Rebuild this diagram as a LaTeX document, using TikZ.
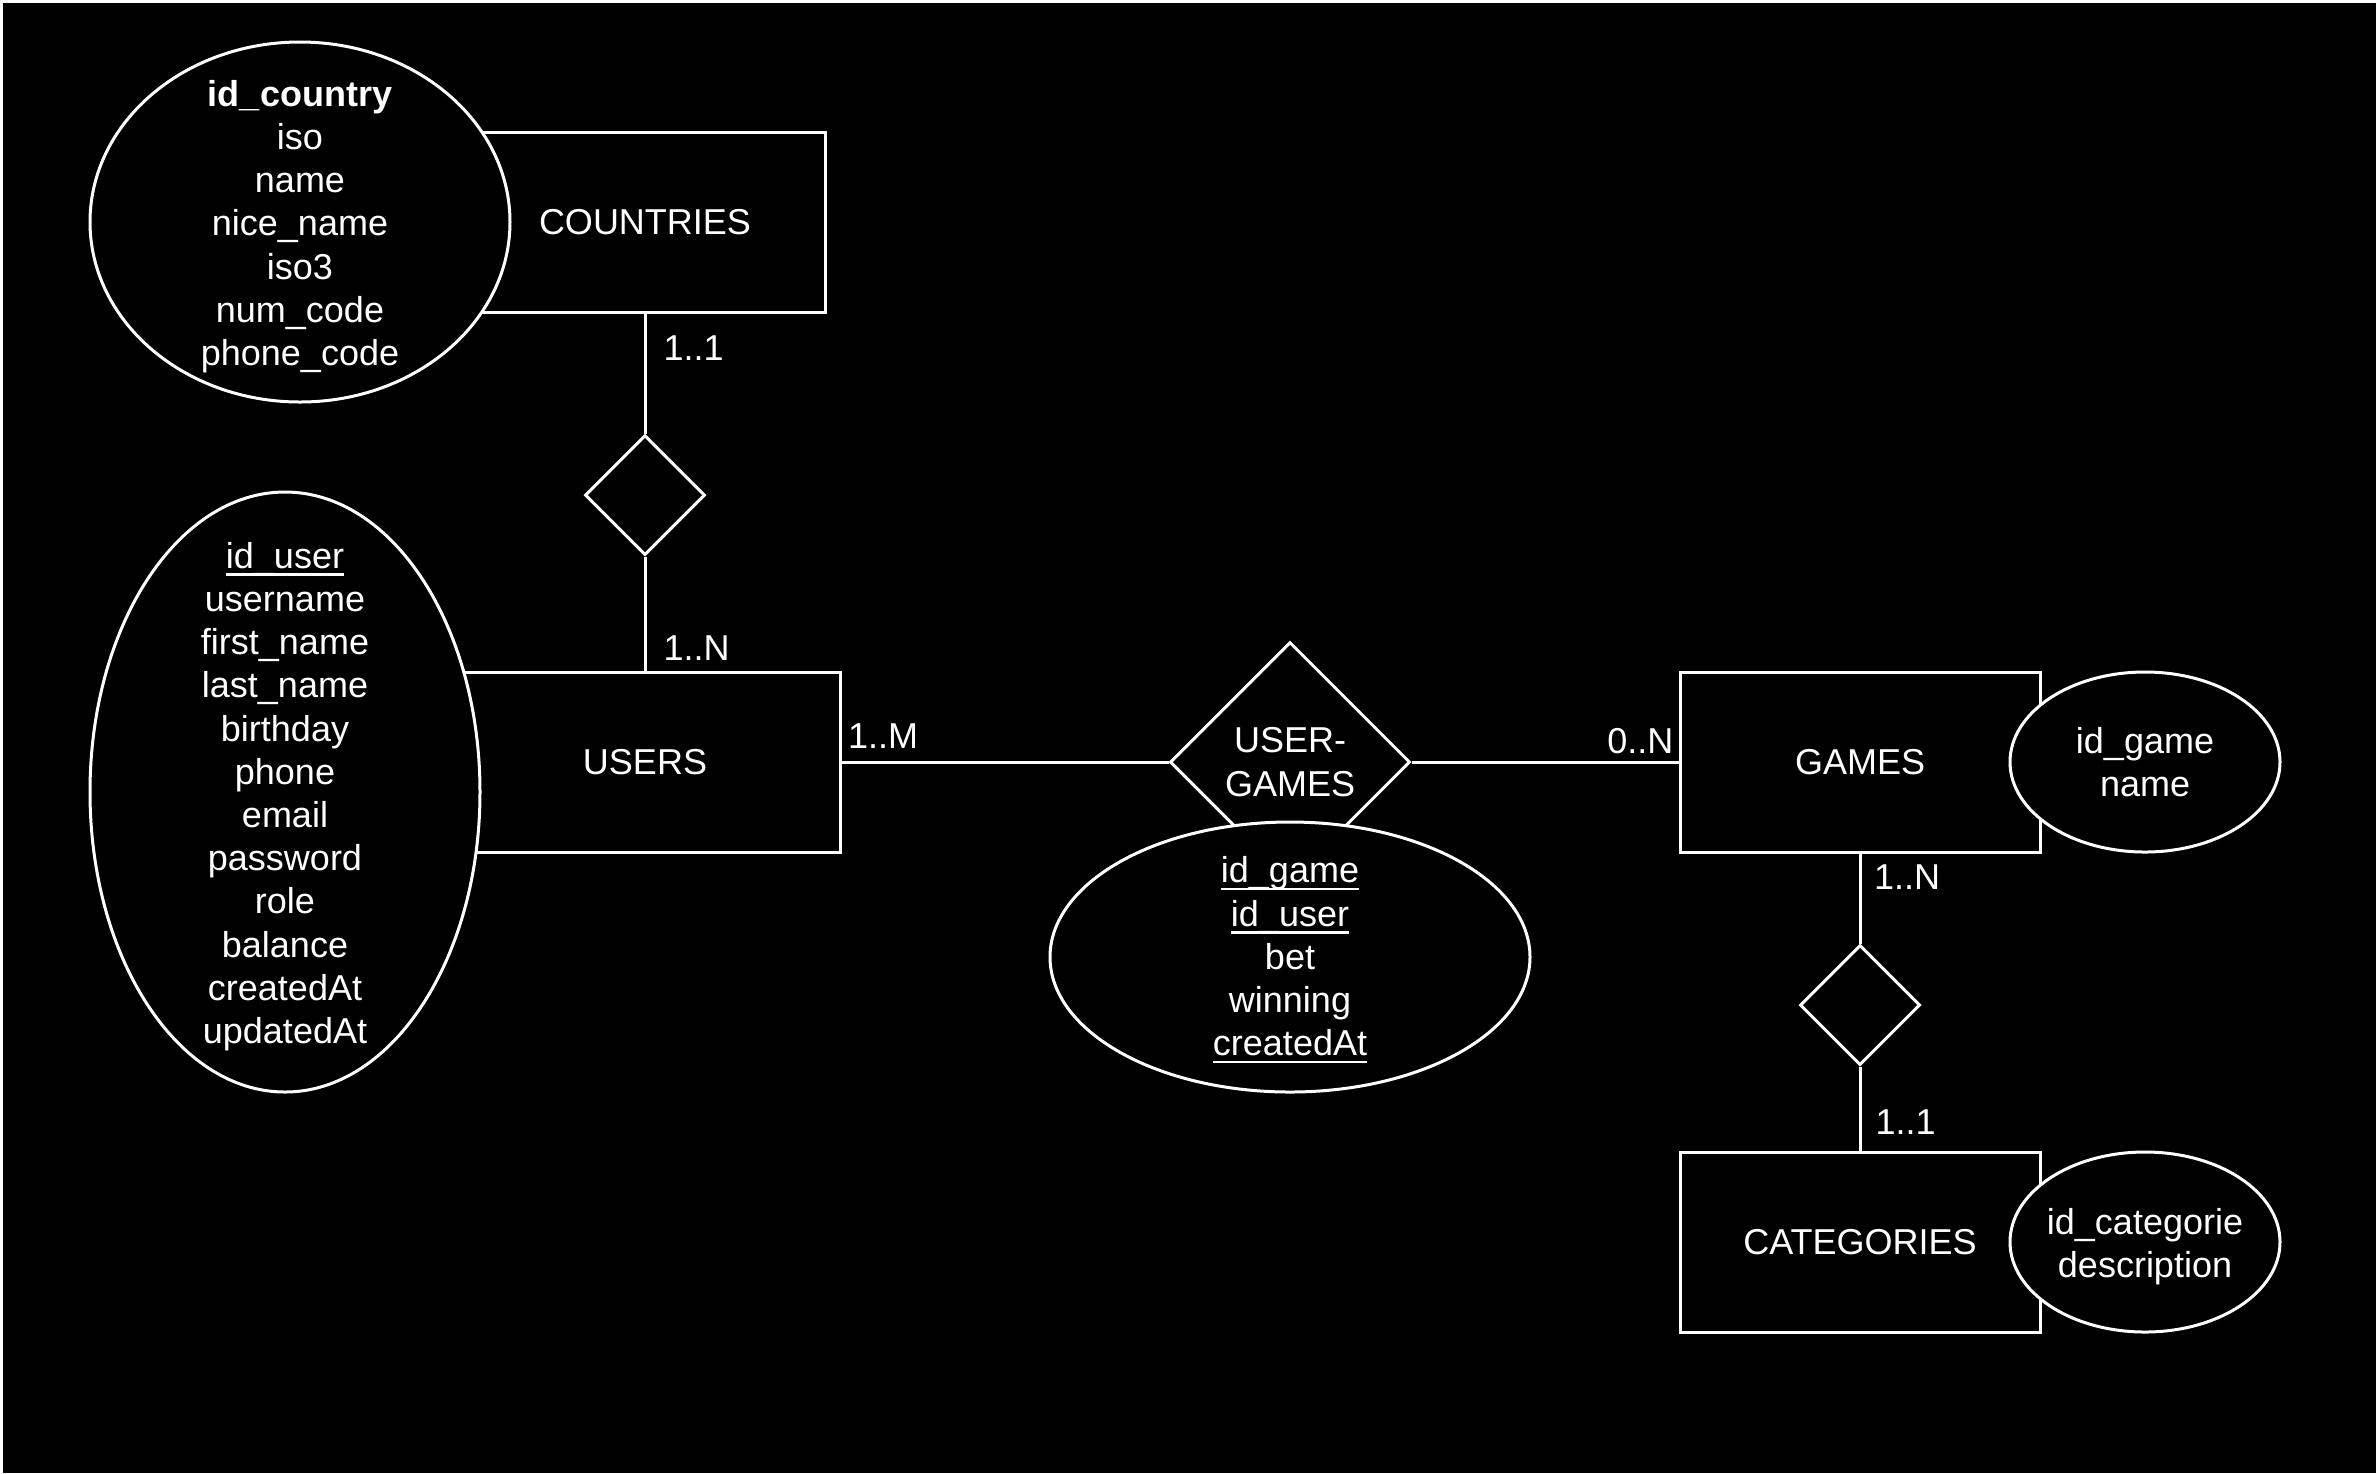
\documentclass[tikz,border=0pt]{standalone}
\usepackage{fontspec}
\setmainfont{Liberation Sans}
\usetikzlibrary{shapes.geometric}

% key attribute: line at the height of the underscore
\newcommand\keyattr[1]{\setbox0\hbox{#1}\rlap{\rule[-2.5pt]{\wd0}{0.8pt}}\box0}

\tikzset{
  erfont/.style={font=\fontsize{12}{14.4}\selectfont},
  entity/.style={draw=white,line width=1pt,fill=black,text=white,erfont,
    minimum width=120pt,minimum height=60pt,inner sep=0pt},
  attrib/.style={draw=white,line width=1pt,fill=black,ellipse,inner sep=0pt},
  attrtext/.style={text=white,erfont,align=center,inner sep=0pt,yshift=-1.5pt},
  relation/.style={draw=white,line width=1pt,fill=black,diamond,inner sep=0pt,
    minimum width=40pt,minimum height=40pt,text=white,erfont,align=center},
  card/.style={text=white,erfont,inner sep=0pt},
  link/.style={draw=white,line width=1pt}
}

\begin{document}
\begin{tikzpicture}[x=1pt,y=-1pt]
\path[use as bounding box,fill=black] (0,0) rectangle (792,491);
\fill[white] (0,0) rectangle (792,0.9);
\fill[white] (0,0) rectangle (0.9,491);
% entities
\node[entity] (countries) at (215,74) {COUNTRIES};
\node[entity,minimum width=130pt] (users) at (215,254) {USERS};
\node[entity] (games) at (620,254) {GAMES};
\node[entity] (categories) at (620,414) {CATEGORIES};
% relations
\node[relation] (livesin) at (215,165) {};
\node[relation,minimum width=80pt,minimum height=80pt] (usergames) at (430,254) {USER-\\GAMES};
\node[relation] (belongsto) at (620,335) {};
% links
\draw[link] (countries) -- (livesin);
\draw[link] (livesin) -- (users);
\draw[link] (users) -- (usergames);
\draw[link] (usergames) -- (games);
\draw[link] (games) -- (belongsto);
\draw[link] (belongsto) -- (categories);
% cardinalities
\node[card,anchor=west] (c11a) at (221,116) {1..1};
\node[card,anchor=west] (c1na) at (221,216) {1..N};
\node[card,anchor=west] (c1m) at (282.5,245.5) {1..M};
\node[card,anchor=east] (c0n) at (558,247) {0..N};
\node[card,anchor=west] (c1nb) at (624.5,292.5) {1..N};
\node[card,anchor=west] (c11b) at (625,374) {1..1};
% attributes
\node[attrib,minimum width=140pt,minimum height=120pt] (cattr) at (100,74) {};
\node[attrtext] (ctext) at (cattr) {\textbf{id\_country}\\iso\\name\\nice\_name\\iso3\\num\_code\\phone\_code};
\node[attrib,minimum width=130pt,minimum height=200pt] (uattr) at (95,264) {};
\node[attrtext] (utext) at (uattr) {\keyattr{id\_user}\\username\\first\_name\\last\_name\\birthday\\phone\\email\\password\\role\\balance\\createdAt\\updatedAt};
\node[attrib,minimum width=160pt,minimum height=90pt] (ugattr) at (430,319) {};
\node[attrtext,yshift=0.5pt] (ugtext) at (ugattr) {\keyattr{id\_game}\\\keyattr{id\_user}\\bet\\winning\\\keyattr{createdAt}};
\node[attrib,minimum width=90pt,minimum height=60pt] (gattr) at (715,254) {};
\node[attrtext,yshift=1.5pt] (gtext) at (gattr) {id\_game\\name};
\node[attrib,minimum width=90pt,minimum height=60pt] (kattr) at (715,414) {};
\node[attrtext] (ktext) at (kattr) {id\_categorie\\description};
\end{tikzpicture}
\end{document}
